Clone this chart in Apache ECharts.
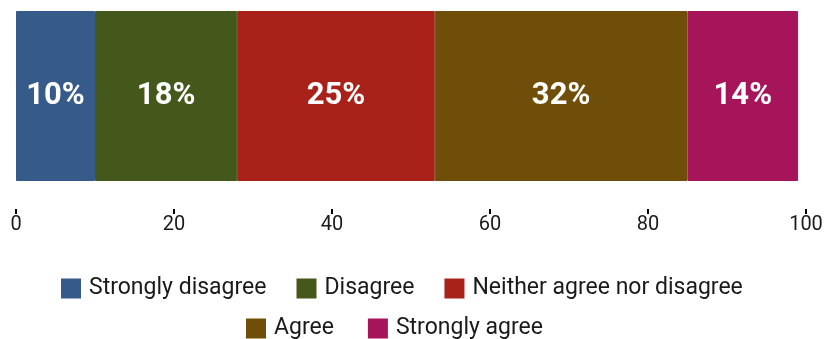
<!DOCTYPE html>
<html>
<head>
<meta charset="utf-8">
<script src="https://cdn.jsdelivr.net/npm/echarts@6/dist/echarts.min.js"></script>
<style>
  html, body { margin: 0; padding: 0; background: #ffffff; }
  #chart { width: 827px; height: 339px; }
</style>
</head>
<body>
<div id="chart"></div>
<script>
// Survey responses (percent of respondents)
const categories = ['Responses'];
const seriesNames = ['Strongly disagree', 'Disagree', 'Neither agree nor disagree', 'Agree', 'Strongly agree'];
const seriesValues = [10, 18, 25, 32, 14];
const seriesColors = ['#365a89', '#45581c', '#a9221a', '#6e4e08', '#a6145a'];
const tickValues = [0, 20, 40, 60, 80, 100];

const FONT = 'Roboto, "Noto Sans", sans-serif';

const chart = echarts.init(document.getElementById('chart'), null, { renderer: 'canvas' });

// Each segment gets a hairline border in its own fill colour so adjacent
// segments butt together without an anti-aliased gap.
const series = seriesNames.map((name, i) => ({
  name: name,
  type: 'bar',
  stack: 'total',
  barWidth: '100%',
  data: [seriesValues[i]],
  itemStyle: { color: seriesColors[i], borderColor: seriesColors[i], borderWidth: 1 },
  label: {
    show: true,
    position: 'inside',
    formatter: '{c}%',
    color: '#ffffff',
    fontFamily: FONT,
    fontWeight: 'bold',
    fontSize: 31
  },
  emphasis: { disabled: true }
}));

const legendText = {
  color: '#1a1a1a',
  fontFamily: FONT,
  fontSize: 23,
  padding: [0, 0, 0, 4]
};

chart.setOption({
  animation: false,
  grid: { left: 16, right: 21, top: 11, height: 170, containLabel: false },
  xAxis: {
    type: 'value',
    min: tickValues[0],
    max: tickValues[tickValues.length - 1],
    interval: 20,
    offset: 28,
    axisLine: { show: false },
    axisTick: { show: true, length: 5, lineStyle: { color: '#000000', width: 2 } },
    splitLine: { show: false },
    axisLabel: { color: '#1a1a1a', fontFamily: FONT, fontSize: 20, margin: 6 }
  },
  yAxis: {
    type: 'category',
    data: categories,
    show: false
  },
  legend: [
    {
      data: seriesNames.slice(0, 3),
      left: 61, top: 277, padding: 0,
      icon: 'rect', itemWidth: 18, itemHeight: 18, itemGap: 30,
      textStyle: legendText, selectedMode: false
    },
    {
      data: seriesNames.slice(3),
      left: 246, top: 317, padding: 0,
      icon: 'rect', itemWidth: 18, itemHeight: 18, itemGap: 34,
      textStyle: legendText, selectedMode: false
    }
  ],
  series: series
});
</script>
</body>
</html>
